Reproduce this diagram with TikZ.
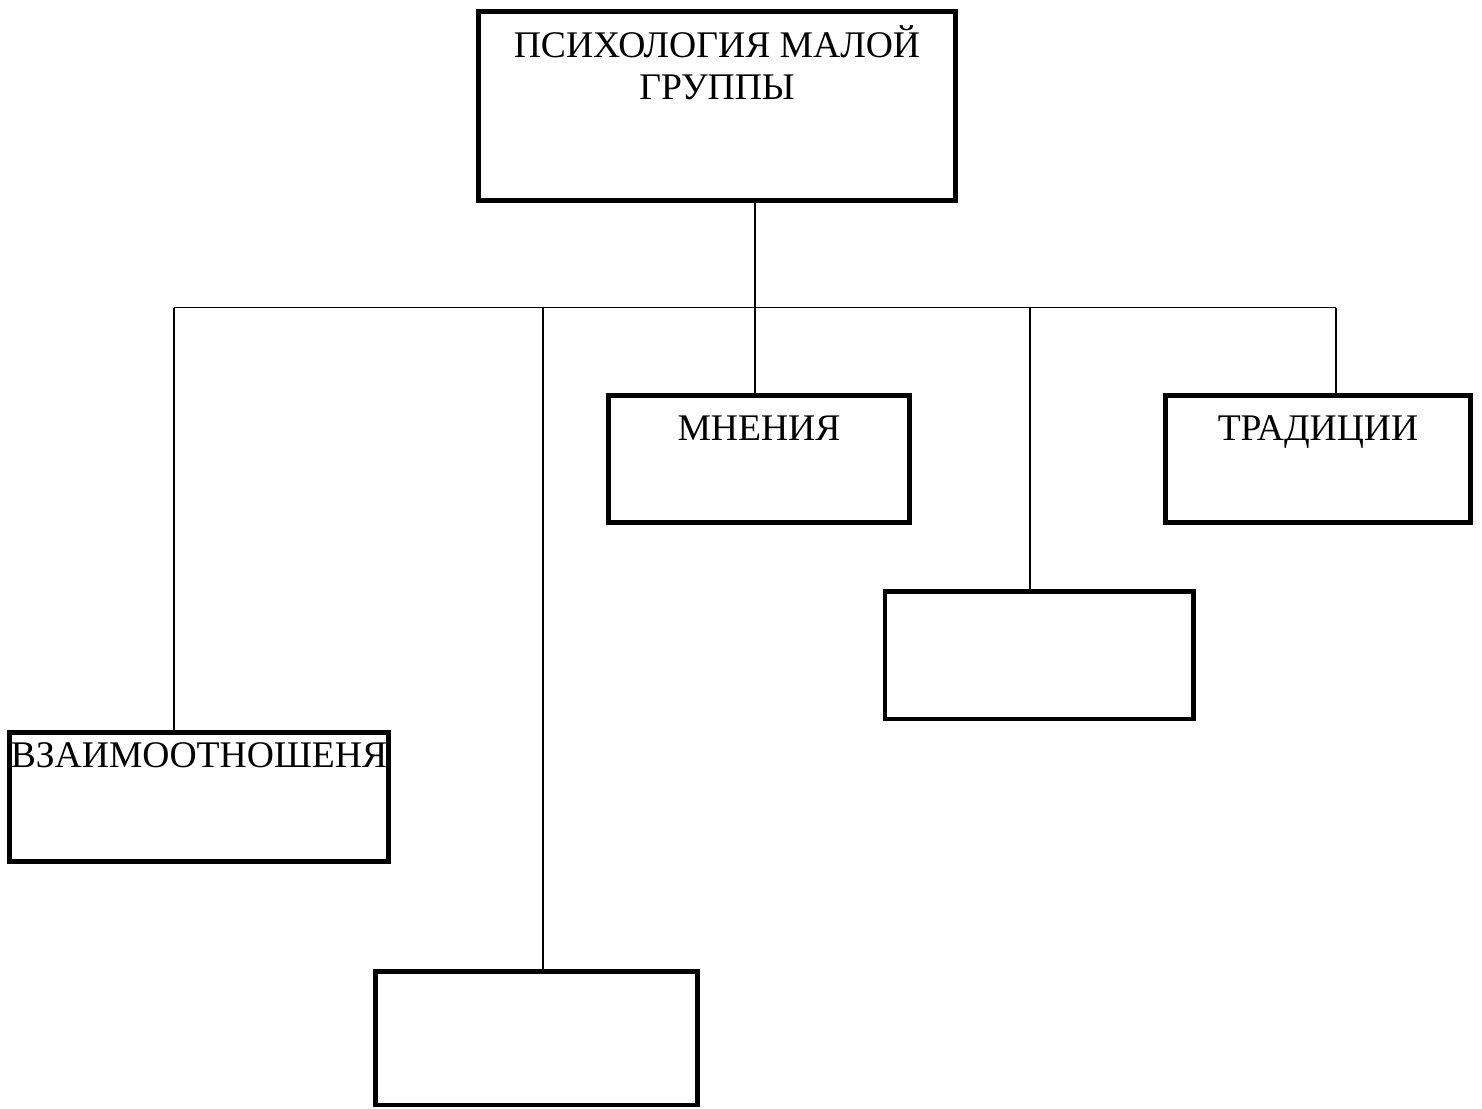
\documentclass[tikz,border=0pt]{standalone}
\usepackage{fontspec}
\setmainfont{Liberation Serif}
\usetikzlibrary{positioning,calc}

\begin{document}
\begin{tikzpicture}[
  box/.style={draw, rectangle, line width=2.8pt, inner sep=0pt},
  lab/.style={draw=none, inner sep=0pt, align=center, font=\fontsize{21.4}{24}\selectfont},
  wire/.style={line width=1pt}
]
\useasboundingbox (0,0) rectangle (29.64,-22.16);

\node[box, minimum width=9.54cm, minimum height=3.78cm] (top) at (14.34,-2.12) {};
\node[box, minimum width=6.02cm, minimum height=2.54cm] (mn)  at (15.18,-9.18) {};
\node[box, minimum width=6.1cm,  minimum height=2.54cm] (tr)  at (26.36,-9.18) {};
\node[box, minimum width=6.17cm, minimum height=2.55cm] (e4)  at (20.785,-13.105) {};
\node[box, minimum width=7.58cm, minimum height=2.58cm] (vz)  at (3.98,-15.94) {};
\node[box, minimum width=6.44cm, minimum height=2.67cm] (e2)  at (10.73,-20.765) {};

% texts
\node[lab, anchor=base] (toplab) at ([yshift=-18.1mm]top.north) {ПСИХОЛОГИЯ МАЛОЙ\\ГРУППЫ};
\node[lab, anchor=base] (mnlab)  at ([yshift=-9.5mm]mn.north)  {МНЕНИЯ};
\node[lab, anchor=base] (trlab)  at ([yshift=-9.5mm]tr.north)  {ТРАДИЦИИ};
\node[lab, anchor=base] (vzlab)  at ([yshift=-7.5mm]vz.north)  {ВЗАИМООТНОШЕНЯ};

% bus
\coordinate (p1) at (3.48,-6.15);
\coordinate (p2) at (10.86,-6.15);
\coordinate (p3) at (15.1,-6.15);
\coordinate (p4) at (20.6,-6.15);
\coordinate (p5) at (26.72,-6.15);

\draw[wire] (p3 |- top.south) -- (p3);
\draw[wire] (p1) -- (p5);
\draw[wire] (p1) -- (p1 |- vz.north);
\draw[wire] (p2) -- (p2 |- e2.north);
\draw[wire] (p3) -- (p3 |- mn.north);
\draw[wire] (p4) -- (p4 |- e4.north);
\draw[wire] (p5) -- (p5 |- tr.north);
\end{tikzpicture}
\end{document}
